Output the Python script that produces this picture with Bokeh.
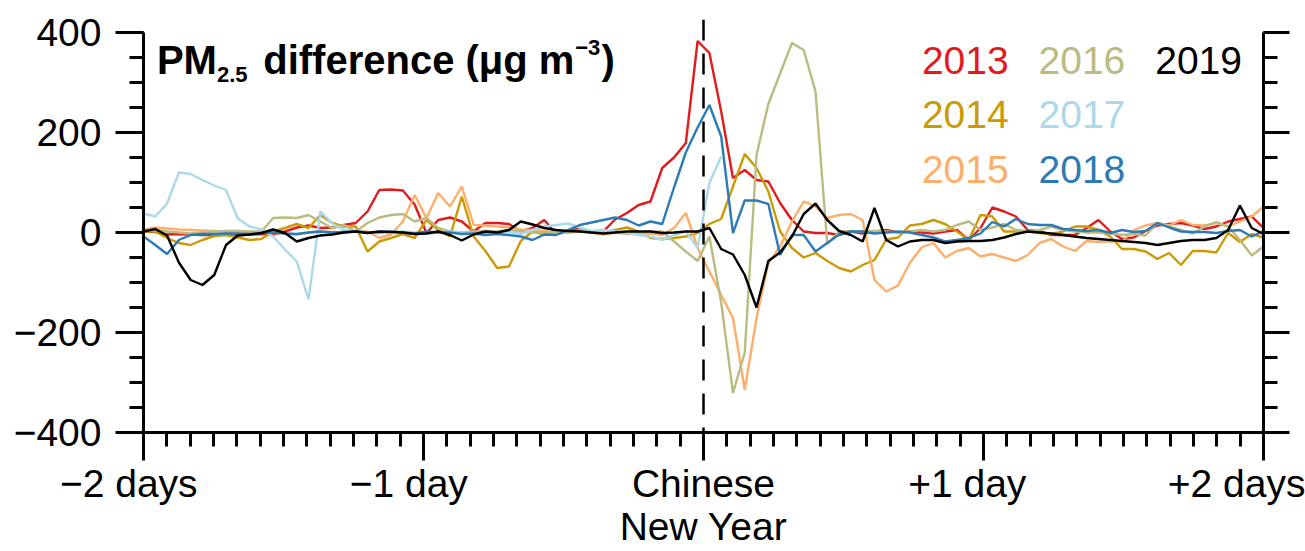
import numpy as np
from bokeh.plotting import figure
from bokeh.models import (Range1d, LinearAxis, FixedTicker, Label, Span)
from bokeh.embed import file_html
from bokeh.resources import INLINE

# ---------------- data (hours relative to Chinese New Year) ----------------
hours = [round(-48 + k * 96 / 95, 3) for k in range(96)]

pm_2013 = [2, 1, -4, -3, -4, -5, -5, -4, -5, -4, -3, -4, 2, 10, 14, 9, 10, 15, 19, 42,
           85, 86, 84, 56, -1, 25, 30, 22, 2, 19, 19, 17, 2, 9, 25, -3, 3, 8, 0, 2,
           26, 39, 55, 62, 129, 150, 179, 383, 359, 242, 109, 125, 105, 102, 59, 25, 2, -1, -1, -5,
           2, -2, 2, 5, 0, 2, 0, -2, 2, 5, -15, 9, 50, 42, 32, 5, 3, -5, -5, -5,
           9, 25, 2, -13, -10, 3, 14, 17, 19, 14, 7, 12, 22, 27, 32, 9]
pm_2014 = [2, 2, -11, -21, -25, -15, -7, -5, -10, -15, -13, 2, 9, 17, 9, 35, 19, 12, 12, -38,
           -18, -11, -3, -11, 25, 5, -8, 72, -8, -37, -71, -68, -17, 2, -4, -2, 0, 5, 2, -1,
           5, 10, 2, -11, -13, -11, -8, -1, 17, 27, 92, 157, 129, 82, 2, -31, -50, -41, -57, -71,
           -78, -65, -55, -14, -10, 14, 17, 25, 17, 2, -15, 35, 32, 2, 2, 2, -1, -3, 2, 12,
           12, 5, -8, -33, -33, -38, -53, -41, -65, -37, -37, -40, -1, -19, -3, -10]
pm_2015 = [5, 10, 8, 6, 5, 4, 3, 2, 2, 1, 0, -1, -2, -4, 0, 2, 1, 0, 2, 2,
           -11, -4, 22, 75, 29, 79, 52, 92, 15, 14, 12, 10, 6, 5, 3, -2, 0, 2, 0, -4,
           0, -2, -3, -2, -5, 9, 39, -31, -78, -125, -171, -315, -171, -61, -28, 22, 62, 52, 29, 35,
           37, 25, -95, -118, -106, -61, -30, -21, -50, -37, -31, -48, -43, -50, -57, -45, -21, -13, -28, -37,
           -17, -19, -18, -18, 5, 14, 19, 14, 25, 15, 14, 19, 12, 22, 32, 52]
pm_2016 = [3, 5, 2, 0, -2, 0, 2, 3, 3, 2, 2, 29, 30, 29, 35, 22, 9, 15, 2, 19,
           30, 35, 37, 22, 29, 9, 2, 0, 2, 3, 2, 5, 2, 0, 0, 2, 0, 3, 0, 2,
           0, -2, 0, 2, 2, -18, -38, -57, -8, -140, -321, -240, 155, 257, 318, 379, 365, 282, -23, 2,
           3, 2, 3, 2, 0, 2, 5, 2, 5, 15, 22, 5, 10, 17, 5, 3, 5, 12, 5, 2,
           0, 0, -2, -5, -3, -6, 19, 12, 5, -2, 12, 21, 12, -15, -46, -28]
pm_2017 = [38, 32, 58, 120, 117, 105, 94, 85, 28, 12, 6, -8, -34, -58, -134, 42, 18, 5, 2, 0,
           -2, 0, 2, 0, -2, 0, 2, 0, -2, -3, 0, 2, -3, 5, 12, 15, 18, 10, 3, 5,
           2, 0, -5, -8, -15, -5, 2, -31, 99, 152] + [None] * 46
pm_2018 = [-8, -25, -43, -15, -5, -3, -3, -2, -2, -3, -1, 0, -2, -3, 0, 2, 0, 1, 2, 0,
           1, 2, 0, -2, 2, 0, 0, -3, -2, -5, -3, -5, -8, -15, -4, -5, 5, 15, 20, 25,
           30, 25, 14, 22, 17, 90, 160, 210, 255, 192, -1, 64, 64, 57, -45, -5, -5, -38, -21, -4,
           2, 2, -2, 0, 2, 0, -5, -10, -18, -15, -11, -2, 21, 12, 27, 17, 15, 15, 7, 5,
           3, 5, -1, 5, 1, 3, 19, 10, 2, 1, 1, -1, 3, 5, -8, 3]
pm_2019 = [2, 7, -6, -60, -95, -105, -85, -25, -6, -4, -1, 6, -1, -18, -11, -6, -4, 0, 2, -1,
           2, 1, 0, -3, -2, 2, -5, -16, -4, 2, 0, 5, 22, 16, 9, 5, 3, 2, 0, -2,
           0, 2, 2, 2, -1, 0, 2, 2, 9, -33, -44, -85, -150, -57, -40, -8, 37, 58, 25, 3,
           -5, -18, 49, -15, -28, -18, -15, -15, -21, -18, -17, -17, -15, -10, -3, 2, 0, -2, -5, -8,
           -11, -13, -15, -17, -19, -21, -25, -21, -17, -15, -15, -11, 5, 54, 9, -3]

years = ["2013", "2014", "2015", "2016", "2017", "2018", "2019"]
series = [pm_2013, pm_2014, pm_2015, pm_2016, pm_2017, pm_2018, pm_2019]
colors = ["#e31a1c", "#cc9a06", "#fdae6b", "#babb80", "#abd9e9", "#2c7bb6", "#000000"]

y_ticks = [-400, -200, 0, 200, 400]
y_labels = ["\u2212400", "\u2212200", "0", "200", "400"]
x_ticks = [-48, -24, 0, 24, 48]
NB = "\u00a0"
TH = "\u2009"
x_labels = ["\u22122 days" + NB * 2 + TH, "\u22121 day" + NB * 2 + TH, "Chinese\nNew Year",
            "+1 day" + NB * 3, "+2 days"]

FONT = "Liberation Sans"

# ---------------- figure ----------------
p = figure(width=1305, height=551, output_backend="svg", toolbar_location=None,
           x_range=Range1d(-48, 48), y_range=Range1d(-400, 426),
           x_axis_location=None, y_axis_location=None,
           min_border_left=143, min_border_right=42, min_border_top=19,
           min_border_bottom=119)
p.outline_line_color = None
p.xgrid.visible = False
p.ygrid.visible = False
p.background_fill_color = "white"
p.border_fill_color = "white"


def style_axis(ax, font_size):
    ax.axis_line_width = 3
    ax.axis_line_color = "black"
    ax.major_tick_line_width = 3
    ax.minor_tick_line_width = 3
    ax.major_tick_line_color = "black"
    ax.minor_tick_line_color = "black"
    ax.major_tick_in = 0
    ax.minor_tick_in = 0
    ax.major_label_text_font = FONT
    ax.major_label_text_font_size = font_size
    ax.major_label_text_color = "black"


yticker = FixedTicker(ticks=y_ticks, minor_ticks=list(range(-400, 401, 50)))
left = LinearAxis(ticker=yticker, bounds=(-400, 400))
style_axis(left, "39px")
left.major_tick_out = 28
left.minor_tick_out = 14
left.major_label_standoff = 14
left.major_label_overrides = dict(zip(y_ticks, y_labels))
p.add_layout(left, "left")

right = LinearAxis(ticker=yticker, bounds=(-400, 400))
style_axis(right, "0px")
right.major_label_text_color = None
right.major_tick_out = 26
right.minor_tick_out = 14
right.major_label_standoff = 0
p.add_layout(right, "right")

xticker = FixedTicker(ticks=x_ticks, minor_ticks=list(range(-48, 49, 2)))
bottom = LinearAxis(ticker=xticker)
style_axis(bottom, "39px")
bottom.major_tick_out = 28
bottom.minor_tick_out = 14
bottom.major_label_standoff = 1
bottom.major_label_text_line_height = 1.0
bottom.major_label_overrides = dict(zip(x_ticks, x_labels))
p.add_layout(bottom, "below")

# Chinese New Year marker
p.add_layout(Span(location=0, dimension="height", line_color="black",
                  line_width=2.5, line_dash="21 13"))

# series
for yr, vals, col in zip(years, series, colors):
    yv = np.array([np.nan if v is None else v for v in vals], dtype=float)
    p.line(hours, yv, line_color=col, line_width=2.4)

# ---------------- title with sub/superscript ----------------
def lab(text, dx, dy, size, bold=True, color="black"):
    p.add_layout(Label(x=-48, y=400, x_offset=dx, y_offset=dy, text=text,
                       text_font=FONT, text_font_size=size,
                       text_font_style="bold" if bold else "normal",
                       text_color=color, text_baseline="alphabetic",
                       text_align="left"))


lab("PM", 13.4, -27.6, "40px")
lab("2.5", 73.4, -41.6, "22px")
lab("difference (\u03bcg m", 119.7, -27.6, "40px")
lab("\u22123", 431.7, -14.8, "22px")
lab(")", 458.0, -27.6, "40px")

# ---------------- colour-text legend ----------------
legend_pos = [(778.4, -28.3), (778.4, -81.6), (778.4, -136.6),
              (895.0, -28.3), (895.0, -81.6), (895.0, -136.6),
              (1011.7, -28.3)]
for yr, col, (dx, dy) in zip(years, colors, legend_pos):
    lab(yr, dx, dy, "39px", bold=False, color=col)

open("out.html", "w").write(file_html(p, INLINE))
